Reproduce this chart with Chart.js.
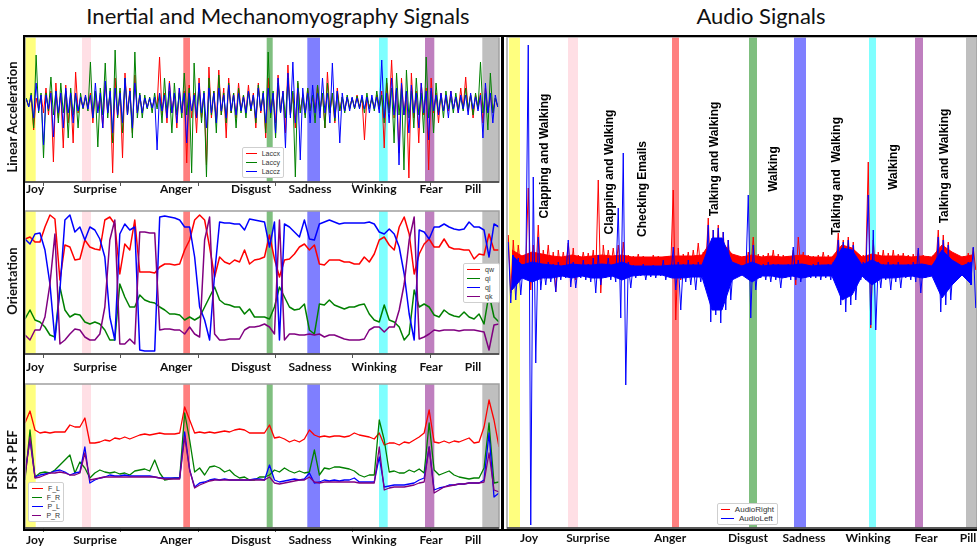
<!DOCTYPE html>
<html><head><meta charset="utf-8">
<script src="https://cdn.jsdelivr.net/npm/chart.js@4.4.1/dist/chart.umd.min.js"></script>
<style>
body{margin:0;width:977px;height:549px;background:#fff;position:relative;overflow:hidden;font-family:Lato,sans-serif}
canvas{position:absolute}
.title{position:absolute;top:2px;font:22px Lato,sans-serif;color:#111;white-space:nowrap;transform:translateX(-50%)}
.ytitle{position:absolute;font:bold 13px Lato,sans-serif;color:#111;white-space:nowrap;transform:translate(-50%,-50%) rotate(-90deg)}
.frame{position:absolute;border:2px solid #000;box-sizing:border-box;pointer-events:none}
.leg{position:absolute;background:#fff;border:1px solid #cfcfcf;border-radius:2px;font:7px "Liberation Sans",sans-serif;color:#333;padding:1px 3px;box-sizing:border-box}
.leg div{display:flex;align-items:center;height:9px;white-space:nowrap}
.leg span{display:inline-block;height:1.5px;margin-right:5px}
</style></head><body>
<div class="title" style="left:278px">Inertial and Mechanomyography Signals</div>
<div class="title" style="left:761px">Audio Signals</div>
<canvas id="c1" width="502" height="175" style="left:0;top:30px"></canvas>
<canvas id="c2" width="502" height="173" style="left:0;top:205px"></canvas>
<canvas id="c3" width="502" height="171" style="left:0;top:378px"></canvas>
<canvas id="c4" width="475" height="519" style="left:502px;top:30px"></canvas>
<div class="ytitle" style="left:12px;top:117px">Linear Acceleration</div>
<div class="ytitle" style="left:12px;top:281px">Orientation</div>
<div class="ytitle" style="left:12px;top:460px">FSR + PEF</div>
<div class="frame" style="left:23px;top:35px;width:480px;height:496px"></div>
<div class="frame" style="left:502px;top:35px;width:480px;height:496px"></div>
<div class="leg" id="l1" style="left:242px;top:147px;width:42px"></div>
<div class="leg" id="l2" style="left:463px;top:263px;width:37px"></div>
<div class="leg" id="l3" style="left:28px;top:482px;width:36px"></div>
<div class="leg" id="l4" style="left:717px;top:503px;width:61px;font-size:8px"></div>
<script>
// ---------- categories / labels ----------
const emotionLabels = ['Joy','Surprise','Anger','Disgust','Sadness','Winking','Fear','Pill'];
const bandColors = ['rgba(255,255,0,0.5)','rgba(255,192,203,0.5)','rgba(255,0,0,0.5)','rgba(0,128,0,0.5)','rgba(0,0,255,0.5)','rgba(0,255,255,0.5)','rgba(128,0,128,0.5)','rgba(128,128,128,0.5)'];
// IMU time axis (0..474)
const imuSpan = 474;
const imuBandStart = [0,57,158.3,241.7,282.3,354,400,457.3];
const imuBandEnd   = [10.7,66,165,247.7,295,362.7,409.3,474];
const imuLabelPos  = [10,70,151,226,285,349,406,448];
const imuTickMarks = [18,95,173,250,327,405];
// Audio time axis (0..470)
const audioSpan = 470;
const audioBandStart = [2,61,165,242,287,362,408,459];
const audioBandEnd   = [13,71,172,250,299,369,416,470];
const audioLabelPos  = [22,81,163,241,297,361,419,461];
const activityLabels = ['Clapping and Walking','Clapping and Walking','Checking Emails','Talking and Walking','Walking','Talking and  Walking','Walking','Talking and Walking'];
const activityPos    = [38,103,136,208,267,330,387,438];
const activityLevel  = [114,98,81,111,101,94,103,104];

// ---------- linear acceleration: per time bin, high then low ----------
const laccLabels = ['Laccx','Laccy','Laccz'];
const laccX = [4,-3,6,-27,5,-6,8,-10,15,-12,12,-59,20,-15,10,-45,18,-20,8,-40,
 31,-10,5,-5,6,-4,10,-20,12,-8,8,-25,20,-10,10,-70,25,-15,12,-55,
 30,-12,15,-30,28,-10,8,-10,5,-4,4,-5,4,-4,46,-12,10,-20,22,-10,
 10,-25,15,-10,12,-60,18,-15,10,-30,25,-15,10,-62,36,-15,12,-20,33,-12,
 15,-35,25,-10,10,-15,20,-8,8,-10,18,-8,10,-25,20,-10,10,-35,25,-12,
 10,-20,28,-10,12,-30,38,-12,10,-25,20,-10,8,-12,15,-8,8,-10,18,-8,
 10,-25,31,-10,10,-20,15,-8,6,-8,6,-5,5,-5,8,-4,5,-37,6,-4,
 4,-5,8,-5,12,-45,20,-10,43,-15,15,-50,25,-12,12,-75,30,-15,12,-40,
 20,-12,15,-67,25,-10,10,-20,10,-8,6,-8,12,-6,6,-10,15,-6,26,-8,
 8,-15,8,-5,10,-20,15,-10,8,-10,5,-4];
const laccY = [5,-4,10,-25,48,-10,10,-55,10,-8,26,-12,12,-20,20,-10,12,-35,15,-12,
 10,-25,10,-6,6,-8,41,-15,12,-44,15,-12,40,-15,15,-40,53,-15,15,-30,
 25,-12,12,-35,51,-15,10,-15,8,-6,6,-10,10,-6,10,-20,25,-10,12,-30,
 20,-12,10,-15,30,-12,15,-70,40,-15,15,-20,12,-74,25,-12,12,-30,28,-12,
 10,-20,20,-10,10,-25,15,-10,8,-15,12,-8,8,-20,18,-8,12,-30,51,-15,
 12,-35,20,-10,10,-15,25,-12,12,-74,22,-10,8,-15,15,-8,8,-20,18,-8,
 10,-25,20,-10,10,-18,12,-8,6,-10,8,-6,5,-6,7,-5,6,-10,10,-6,
 5,-8,12,-6,8,-20,25,-10,15,-40,30,-12,15,-67,33,-15,12,-25,25,-12,
 10,-30,46,-15,12,-30,20,-10,8,-15,12,-6,6,-10,10,-6,6,-8,15,-6,
 8,-12,10,-6,41,-10,10,-27,30,-10,5,-4];
const laccZ = [4,-4,8,-15,20,-8,8,-42,8,-6,10,-34,12,-10,10,-25,15,-10,10,-20,
 10,-8,6,-5,8,-6,8,-15,20,-10,10,-25,22,-10,12,-30,15,-12,10,-20,
 25,-12,12,-25,20,-10,8,-10,5,-5,5,-5,6,-47,10,-8,8,-15,20,-10,
 10,-20,15,-10,10,-40,10,-8,8,-15,20,-10,10,-25,15,-10,10,-20,15,-8,
 8,-15,18,-8,8,-12,10,-8,6,-10,12,-6,8,-15,15,-8,10,-20,15,-10,
 10,-30,25,-10,12,-45,30,-15,41,-20,15,-57,15,-10,10,-20,18,-10,10,-15,
 25,-10,10,-20,40,-15,12,-40,10,-8,6,-8,6,-5,5,-6,8,-6,6,-10,
 8,-6,6,-10,43,-15,10,-20,25,-12,15,-62,20,-12,12,-30,18,-10,10,-25,
 20,-10,12,-37,15,-8,8,-12,10,-8,8,-15,12,-6,6,-10,8,-6,8,-12,
 10,-6,6,-8,8,-35,20,-10,10,-20,8,-4];

// ---------- orientation ----------
const quatLabels = ['qw','qi','qj','qk'];
const qw = [115,117,112,112,127,139,135,74,109,107, 94,95,114,107,105,104,134,137,130,80, 110,104,134,82,82,82,81,87,90,90, 89,90,104,114,134,139,134,107,77,97, 92,90,94,92,104,90,94,95,97,119, 95,77,94,95,100,107,110,104,109,90, 89,94,94,94,92,92,90,90,97,92, 100,114,117,109,104,127,137,120,80,100, 110,115,107,107,115,107,105,105,104,104, 95,100,99,120,104,104];
const qi = [35,44,34,32,27,19,17,67,44,37, 40,39,32,30,32,30,24,14,14,70, 57,47,47,59,54,52,51,47,44,40, 40,39,34,37,34,37,47,57,67,54, 50,49,47,47,40,45,37,37,37,35, 47,67,57,47,44,45,50,24,20,50, 49,54,49,47,45,47,47,49,50,40, 34,32,49,34,32,27,14,20,64,47, 50,47,39,37,44,40,38,37,42,37, 35,40,30,60,37,32];
const qj = [115,110,120,121,104,70,14,64,134,139, 122,127,114,127,124,115,97,37,14,120, 130,124,127,4,3,3,3,137,138,137, 136,134,127,127,97,47,34,14,80,132, 131,131,130,130,124,135,134,133,132,107, 132,14,130,127,122,117,134,115,114,130, 132,134,132,130,131,131,131,131,131,132, 130,122,120,125,120,107,80,40,14,124, 122,115,127,127,130,127,125,124,125,132, 127,127,124,97,130,127];
const qk = [19,14,24,24,37,70,120,10,14,20, 25,24,17,14,14,20,47,114,134,10, 10,15,10,122,122,121,121,24,25,25, 24,24,20,27,20,17,114,137,20,14, 14,15,15,15,24,27,27,28,30,27, 20,134,14,20,20,19,19,20,19,20, 17,19,19,17,15,14,14,14,15,24, 27,27,22,27,27,44,70,114,137,15, 17,20,24,23,24,24,24,23,24,24, 24,23,22,4,29,30];

// ---------- FSR + PEF ----------
const fsrLabels = ['F_L','F_R','P_L','P_R'];
const fL = [105,117,98,95,96,95,96,96,96,103, 101,101,110,85,85,86,88,87,90,89, 91,89,91,93,94,93,94,95,94,94, 94,95,121,108,95,96,95,96,95,96, 97,96,98,99,98,95,95,95,95,103, 90,91,89,86,88,86,89,98,93,91, 92,91,92,92,91,92,95,93,92,91, 89,95,83,85,85,83,86,85,88,91, 95,118,86,85,87,85,87,86,88,90, 85,86,101,128,108,81];
const fR = [48,98,51,55,56,55,58,63,68,73, 55,66,60,50,55,58,56,55,56,54, 55,53,57,58,59,57,68,55,48,49, 50,50,115,88,56,60,53,61,62,60, 56,58,53,50,51,48,48,51,51,53, 58,56,60,57,55,57,55,56,78,53, 60,59,61,61,60,59,57,53,51,53, 53,108,88,56,57,55,55,58,56,59, 55,105,58,53,55,57,53,51,50,49, 50,50,60,105,45,46];
const pL = [55,88,51,53,54,55,57,58,56,53, 55,56,81,45,48,50,51,53,52,52, 53,52,52,52,52,52,51,50,50,50, 50,50,96,58,41,45,46,48,49,48, 49,48,48,48,48,48,49,49,48,63, 48,46,47,48,49,48,49,55,45,46, 48,47,48,47,48,48,50,46,46,46, 46,71,41,42,43,43,43,44,45,48, 50,81,38,40,41,43,43,44,44,45, 45,45,48,95,31,35];
const pR = [51,91,50,51,53,55,55,56,55,53, 53,55,75,48,49,50,51,51,51,51, 51,51,51,51,51,51,51,50,49,49, 49,49,91,58,40,43,45,47,48,48, 48,48,48,48,48,48,48,48,48,51, 45,44,45,46,47,48,48,51,46,45, 46,46,46,46,46,46,46,45,45,45, 45,81,38,40,41,41,41,42,43,45, 46,81,35,38,41,42,43,44,44,45, 45,45,46,75,38,36];

// ---------- audio ----------
const audioLabels = ['AudioRight','AudioLeft'];
// spikes: per 5-unit bin, high then low
const audioRight = [35,-23,30,-10,25,0,15,2,82,-20,25,-5,45,-10,20,0,25,-5,18,-22,
 20,0,18,2,27,-5,22,-10,15,3,18,2,17,0,20,-8,90,-23,25,0,
 20,2,22,0,25,-5,28,-5,15,3,14,4,16,3,14,4,13,3,15,3,
 14,4,13,3,14,3,80,-50,22,-10,16,2,18,0,20,2,27,0,18,2,
 52,-15,40,-10,45,-12,38,-8,30,-5,15,3,14,4,14,3,18,0,33,-5,
 16,3,15,3,17,2,20,0,16,3,15,3,14,3,20,-15,33,0,18,2,
 15,3,14,3,15,4,18,2,15,3,14,4,37,-5,30,-5,33,-3,28,-5,
 16,2,15,3,108,-58,30,-10,18,2,20,0,17,2,20,0,16,3,17,2,
 15,3,16,2,20,-5,15,3,14,4,15,3,40,-8,35,-5,28,-3,15,3,
 14,4,14,3,17,2,22,0];
const audioLeft = [28,-33,15,-30,12,-25,6,-8,225,-255,93,-93,33,-20,6,-15,8,-12,6,-22,
 8,-10,5,-8,30,-17,8,-18,5,-8,10,-10,6,-12,12,-23,15,-15,6,-8,
 12,-10,6,-12,62,-48,117,-115,8,-18,5,-8,4,-6,6,-10,4,-7,5,-8,
 4,-6,10,-10,4,-6,23,-20,8,-40,6,-12,10,-15,6,-20,8,-12,6,-10,
 45,-52,40,-45,42,-53,38,-40,30,-30,4,-6,4,-6,5,-8,75,-48,25,-20,
 5,-8,6,-10,8,-12,6,-10,6,-18,5,-8,6,-10,23,-10,10,-12,5,-8,
 5,-8,6,-8,8,-10,5,-8,6,-10,8,-10,30,-35,28,-42,30,-35,25,-30,
 6,-10,8,-10,75,-55,40,-60,8,-18,6,-10,8,-20,6,-12,8,-18,5,-8,
 6,-10,8,-12,22,-23,5,-8,4,-6,6,-10,33,-42,30,-35,25,-30,5,-8,
 4,-6,5,-8,8,-15,23,-38];
// dense core band: per 10-unit bin
const audioRightCoreHigh = [20,14,18,16,14,13,15,13,14,15, 14,15,13,13,13,13,14,14,14,15, 30,28,16,13,15,13,14,13,14,15, 13,13,13,25,22,13,16,14,14,14, 13,14,13,25,18,13,15];
const audioRightCoreLow  = [-5,3,0,2,3,3,2,3,3,2, 3,2,3,4,4,4,3,3,3,3, -8,-8,2,4,2,3,3,3,3,2, 3,3,3,-5,-5,3,2,3,3,3, 3,3,4,-5,0,4,2];
const audioLeftCoreHigh  = [15,5,8,6,5,4,6,5,5,6, 5,8,4,4,4,4,5,5,5,5, 32,32,8,4,8,4,5,5,5,6, 4,5,5,22,20,5,10,5,5,5, 5,6,4,20,10,4,8];
const audioLeftCoreLow   = [-20,-8,-12,-8,-8,-6,-8,-6,-8,-8, -6,-10,-6,-5,-5,-5,-8,-8,-7,-7, -40,-40,-10,-5,-12,-6,-6,-8,-6,-8, -6,-6,-6,-30,-25,-6,-15,-8,-8,-7, -6,-8,-6,-28,-15,-5,-15];

const RED='#ff0000', GREEN='#008000', BLUE='#0000ff', PURPLE='#800080';

// ---------- helpers ----------
const spread = (arr, span) => arr.map((v,i)=>({x: i*span/(arr.length-1), y: v}));
const binned = (arr, span) => arr.map((v,i)=>({x: (i+0.5)*span/arr.length, y: v}));

function bandsPlugin(starts, ends){
  return {
    id:'bands',
    beforeDatasetsDraw(chart){
      const {ctx, chartArea:a, scales:{x}} = chart;
      ctx.save(); ctx.beginPath(); ctx.rect(a.left,a.top,a.right-a.left,a.bottom-a.top); ctx.clip();
      starts.forEach((s,i)=>{
        const x0=x.getPixelForValue(s), x1=x.getPixelForValue(ends[i]);
        ctx.fillStyle=bandColors[i]; ctx.fillRect(x0,a.top,x1-x0,a.bottom-a.top);
      });
      ctx.restore();
    },
    afterDatasetsDraw(chart){
      const {ctx, chartArea:a} = chart;
      ctx.save();
      ctx.strokeStyle='#a0a0a0'; ctx.lineWidth=1.5;
      ctx.strokeRect(a.left,a.top,a.right-a.left,a.bottom-a.top);
      ctx.strokeStyle='#3a3a3a'; ctx.beginPath(); ctx.moveTo(a.left,a.bottom); ctx.lineTo(a.right,a.bottom); ctx.stroke();
      ctx.restore();
    }
  };
}

function ds(label, color, pts, width, order, fill){
  return {label, data: pts, borderColor: color, backgroundColor: color, borderWidth: width,
    pointRadius: 0, tension: 0, borderJoinStyle: 'round', fill: fill || false, order};
}

const imuTickList = [...imuLabelPos.map((v,i)=>({value:v,label:emotionLabels[i]})),
  ...imuTickMarks.map(v=>({value:v,label:''}))].sort((a,b)=>a.value-b.value);
const imuLabelFor = v => { const t = imuTickList.find(t=>t.value===v); return t ? t.label : ''; };

function imuChart(id, datasets, yMin, yMax, padTop, xHeight, tickPad){
  return new Chart(document.getElementById(id), {
    type:'line',
    data:{datasets},
    options:{
      responsive:false, animation:false, events:[],
      layout:{padding:{top:padTop,right:3,left:0,bottom:0}},
      plugins:{legend:{display:false}, tooltip:{enabled:false}},
      scales:{
        x:{type:'linear', min:0, max:imuSpan,
          afterBuildTicks: ax => { ax.ticks = imuTickList.map(t=>({value:t.value})); },
          afterFit: s => { s.height = xHeight; s.paddingLeft = 0; s.paddingRight = 0; },
          border:{display:false},
          grid:{display:true, drawOnChartArea:false, drawTicks:true, tickLength:4, tickWidth:1,
            tickColor: c => (c.tick && imuLabelFor(c.tick.value)) ? 'rgba(0,0,0,0)' : '#555'},
          ticks:{autoSkip:false, maxRotation:0, minRotation:0, padding:tickPad, color:'#111',
            font:{family:'Lato', weight:'bold', size:12},
            callback: v => imuLabelFor(v)}
        },
        y:{type:'linear', min:yMin, max:yMax,
          afterFit: s => { s.width = 25; s.paddingTop = 0; s.paddingBottom = 0; },
          border:{display:false}, grid:{display:false}, ticks:{display:false}}
      }
    },
    plugins:[bandsPlugin(imuBandStart, imuBandEnd)]
  });
}

imuChart('c1', [
  ds(laccLabels[0], RED,   binned(laccX, imuSpan), 1, 3),
  ds(laccLabels[1], GREEN, binned(laccY, imuSpan), 1, 2),
  ds(laccLabels[2], BLUE,  binned(laccZ, imuSpan), 1, 1)
], -79, 66, 7, 23, -4);

imuChart('c2', [
  ds(quatLabels[0], RED,    spread(qw, imuSpan), 1.5, 4),
  ds(quatLabels[1], GREEN,  spread(qi, imuSpan), 1.5, 3),
  ds(quatLabels[2], BLUE,   spread(qj, imuSpan), 1.5, 2),
  ds(quatLabels[3], PURPLE, spread(qk, imuSpan), 1.5, 1)
], 0, 143, 6, 24, 2);

imuChart('c3', [
  ds(fsrLabels[0], RED,    spread(fL, imuSpan), 1.3, 4),
  ds(fsrLabels[1], GREEN,  spread(fR, imuSpan), 1.3, 3),
  ds(fsrLabels[2], BLUE,   spread(pL, imuSpan), 1.3, 2),
  ds(fsrLabels[3], PURPLE, spread(pR, imuSpan), 1.3, 1)
], 0, 144, 6, 21, 1);

// audio chart
const activityPlugin = {
  id:'activities',
  afterDatasetsDraw(chart){
    const {ctx, scales:{x,y}} = chart;
    ctx.save();
    ctx.fillStyle='#000'; ctx.font='bold 12px "Liberation Sans", Arial, sans-serif';
    ctx.textAlign='center'; ctx.textBaseline='middle';
    activityLabels.forEach((t,i)=>{
      ctx.save();
      ctx.translate(x.getPixelForValue(activityPos[i]), y.getPixelForValue(activityLevel[i]));
      ctx.rotate(-Math.PI/2); ctx.fillText(t,0,0); ctx.restore();
    });
    ctx.restore();
  }
};
new Chart(document.getElementById('c4'), {
  type:'line',
  data:{datasets:[
    ds(audioLabels[0]+' band', RED, binned(audioRightCoreHigh, audioSpan), 1, 6, '+1'),
    ds(audioLabels[0]+' band low', RED, binned(audioRightCoreLow, audioSpan), 1, 5),
    ds(audioLabels[0], RED,  binned(audioRight, audioSpan), 1, 4),
    ds(audioLabels[1]+' band', BLUE, binned(audioLeftCoreHigh, audioSpan), 1, 3, '+1'),
    ds(audioLabels[1]+' band low', BLUE, binned(audioLeftCoreLow, audioSpan), 1, 2),
    ds(audioLabels[1], BLUE, binned(audioLeft, audioSpan), 1, 1)
  ]},
  options:{
    responsive:false, animation:false, events:[],
    layout:{padding:{top:7,right:0,left:0,bottom:0}},
    plugins:{legend:{display:false}, tooltip:{enabled:false}, filler:{propagate:false}},
    scales:{
      x:{type:'linear', min:0, max:audioSpan,
        afterBuildTicks: ax => { ax.ticks = audioLabelPos.map(v=>({value:v})); },
        afterFit: s => { s.height = 21; s.paddingLeft = 0; s.paddingRight = 0; },
        border:{display:false}, grid:{display:false, drawTicks:false},
        ticks:{autoSkip:false, maxRotation:0, minRotation:0, padding:3, color:'#111',
          font:{family:'Lato', weight:'bold', size:12},
          callback: v => { const i = audioLabelPos.indexOf(v); return i>=0 ? emotionLabels[i] : ''; }}
      },
      y:{type:'linear', min:-258, max:233,
        afterFit: s => { s.width = 5; s.paddingTop = 0; s.paddingBottom = 0; },
        border:{display:false}, grid:{display:false}, ticks:{display:false}}
    }
  },
  plugins:[bandsPlugin(audioBandStart, audioBandEnd), activityPlugin]
});

// legends
function legend(id, labels, colors, lineW){
  const el = document.getElementById(id);
  labels.forEach((l,i)=>{
    const row = document.createElement('div');
    const sw = document.createElement('span');
    sw.style.width = lineW+'px'; sw.style.background = colors[i];
    row.appendChild(sw); row.appendChild(document.createTextNode(l));
    el.appendChild(row);
  });
}
legend('l1', laccLabels, [RED,GREEN,BLUE], 12);
legend('l2', quatLabels, [RED,GREEN,BLUE,PURPLE], 13);
legend('l3', fsrLabels, [RED,GREEN,BLUE,PURPLE], 13);
legend('l4', audioLabels, [RED,BLUE], 13);
</script>
</body></html>
